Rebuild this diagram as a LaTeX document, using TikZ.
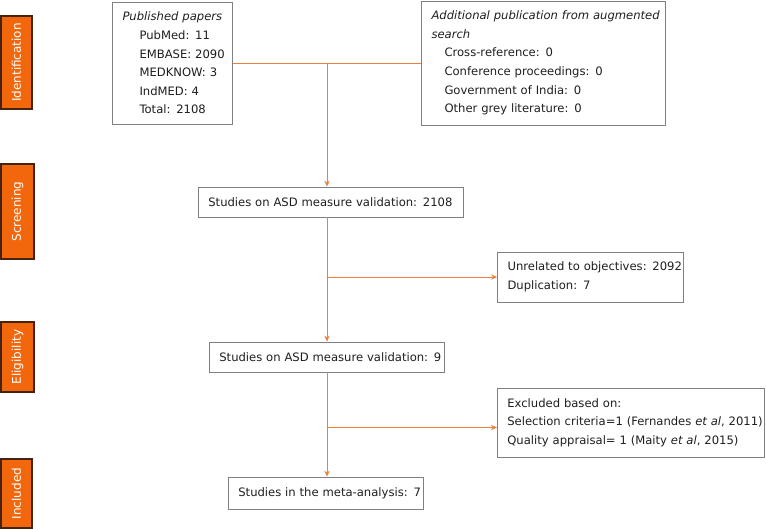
\documentclass[tikz,border=0pt]{standalone}
\usepackage{fontspec}
\setmainfont{DejaVu Sans}
\usepackage{tikz}
\usetikzlibrary{arrows.meta}
\definecolor{flowline}{RGB}{238,128,60}
\definecolor{stagefill}{RGB}{242,102,12}
\definecolor{stageedge}{RGB}{70,35,15}
\definecolor{boxedge}{RGB}{128,128,128}
\definecolor{boxtext}{RGB}{30,30,30}

\begin{document}
\begin{tikzpicture}[x=0.75pt,y=-0.75pt,
    every node/.style={font=\fontsize{8.7}{13.9}\selectfont,text=boxtext},
    stage/.style={draw=stageedge,line width=1pt,fill=stagefill,text=white,rotate=90,inner sep=0pt,
        font=\fontsize{9}{11}\selectfont},
    info/.style={draw=boxedge,line width=0.6pt,align=left,inner xsep=7.5pt,inner ysep=0pt},
    flow/.style={draw=flowline,line width=0.7pt},
    flowarrow/.style={flow,-{Stealth[length=4.5pt,width=4pt]}}]
\useasboundingbox (0,0) rectangle (766,529);

\node[stage,minimum width=69.75pt,minimum height=23.25pt] (ident) at (16.5,62.5) {Identification};
\node[stage,minimum width=71.25pt,minimum height=24.75pt] (screen) at (17.5,211.5) {Screening};
\node[stage,minimum width=52.5pt,minimum height=24.75pt] (elig) at (17.5,357) {Eligibility};
\node[stage,minimum width=51.75pt,minimum height=23.25pt] (incl) at (16.5,493.5) {Included};

\node[info,text width=75pt,minimum height=91.5pt] (pub) at (172.5,63) {
    \mbox{\textit{Published papers}}\\
    \mbox{\hspace*{12.75pt}PubMed: 11}\\
    \mbox{\hspace*{12.75pt}EMBASE: 2090}\\
    \mbox{\hspace*{12.75pt}MEDKNOW: 3}\\
    \mbox{\hspace*{12.75pt}IndMED: 4}\\
    \mbox{\hspace*{12.75pt}Total: 2108}};
\node[info,text width=168pt,minimum height=93pt] (add) at (543.5,63) {
    \mbox{\textit{Additional publication from augmented}}\\
    \mbox{\textit{search}}\\
    \mbox{\hspace*{9.75pt}Cross-reference: 0}\\
    \mbox{\hspace*{9.75pt}Conference proceedings: 0}\\
    \mbox{\hspace*{9.75pt}Government of India: 0}\\
    \mbox{\hspace*{9.75pt}Other grey literature: 0}};
\node[info,text width=184pt,minimum height=22.5pt] (s2108) at (331,202) {\mbox{Studies on ASD measure validation: 2108}};
\node[info,text width=124.5pt,minimum height=37.5pt] (unrel) at (590.5,277) {
    \mbox{Unrelated to objectives: 2092}\\
    \mbox{Duplication: 7}};
\node[info,text width=161.5pt,minimum height=22.5pt] (s9) at (327,357) {\mbox{Studies on ASD measure validation: 9}};
\node[info,text width=185.5pt,minimum height=51.75pt] (excl) at (631,422.5) {
    \mbox{Excluded based on:}\\
    \mbox{Selection criteria=1 (Fernandes \textit{et al}, 2011)}\\
    \mbox{Quality appraisal= 1 (Maity \textit{et al}, 2015)}};
\node[info,text width=131.5pt,minimum height=24pt] (meta) at (326,493) {\mbox{Studies in the meta-analysis: 7}};
\coordinate (exclin) at ([yshift=-3.75pt]excl.west);

\draw[flow] (pub.east) -- (add.west);
\draw[flowarrow] (s9.north |- pub.east) -- (s9.north |- s2108.north);
\draw[flowarrow] (s9.north |- s2108.south) -- (s9.north);
\draw[flowarrow] (s9.north |- unrel.west) -- (unrel.west);
\draw[flowarrow] (s9.south) -- (s9.south |- meta.north);
\draw[flowarrow] (s9.south |- exclin) -- (exclin);
\end{tikzpicture}
\end{document}
